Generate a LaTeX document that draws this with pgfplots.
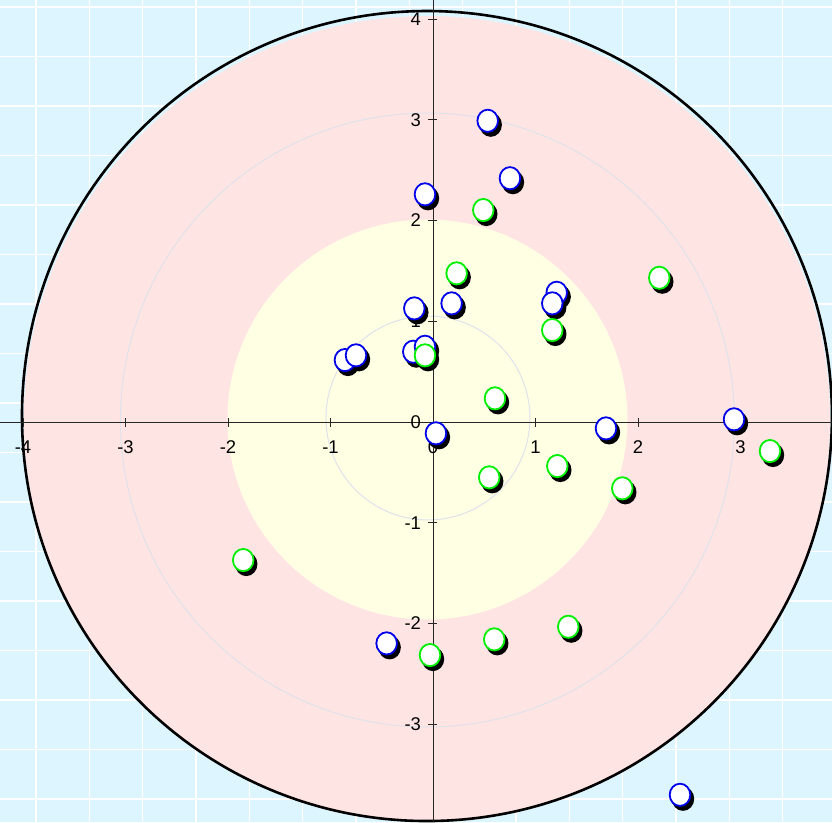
\documentclass[border=0pt]{standalone}
\usepackage{fontspec}
\setmainfont{Liberation Sans}
\usepackage{pgfplots}
\usepackage{pgfplotstable}
\pgfplotsset{compat=1.18}

\definecolor{bgcyan}{RGB}{220,245,255}
\definecolor{ringpink}{RGB}{255,228,228}
\definecolor{ringyellow}{RGB}{255,255,228}
\definecolor{ringgray}{RGB}{222,226,234}
\definecolor{ptblue}{RGB}{0,0,235}
\definecolor{ptgreen}{RGB}{0,240,0}

% blue series
\pgfplotstableread{
x y
0.534 2.990
0.751 2.420
-0.078 2.260
1.207 1.283
1.164 1.178
0.182 1.178
-0.182 1.128
-0.859 0.615
-0.751 0.662
-0.192 0.698
-0.078 0.747
0.029 -0.112
1.688 -0.063
2.937 0.027
-0.452 -2.197
2.410 -3.700
}\bluepts

% green series
\pgfplotstableread{
x y
0.491 2.104
0.231 1.476
2.208 1.432
1.164 0.913
-0.078 0.662
0.605 0.235
0.549 -0.549
1.213 -0.437
1.847 -0.658
3.288 -0.288
-1.851 -1.370
-0.029 -2.313
0.598 -2.157
1.320 -2.032
}\greenpts

\pgfplotsset{
  shadowmark/.style={only marks, mark=*, mark size=10.3bp,
    mark options={draw=black, fill=black, line width=1.8bp,
      xshift=3bp, yshift=-4bp, yscale=1.08}},
  dotmark/.style={only marks, mark=*, mark size=10.3bp,
    mark options={draw=#1, fill=white, line width=1.8bp, yscale=1.08}},
}
\newcommand{\tickfont}{\fontsize{18.5}{21}\selectfont}

\begin{document}
\begin{tikzpicture}
\begin{axis}[
  set layers,
  width=832bp, height=822bp, scale only axis,
  xmin=-4.224, xmax=3.893, ymin=-3.970, ymax=4.189,
  axis lines=center,
  every inner x axis line/.append style={-},
  every inner y axis line/.append style={-},
  axis line style={black!85, line width=0.9bp},
  xtick={-4,...,4}, ytick={-4,...,4},
  hide obscured x ticks=false, hide obscured y ticks=false,
  tick align=center, major tick length=9bp,
  tick style={black!85, line width=0.9bp},
  /pgf/number format/assume math mode=true,
  xticklabel style={font=\tickfont, yshift=-11bp},
  yticklabel style={font=\tickfont, xshift=-4bp},
]
\begin{pgfonlayer}{axis background}
  \fill[bgcyan] (rel axis cs:0,0) rectangle (rel axis cs:1,1);
  \pgfplotsinvokeforeach{0.04327,0.10737,0.17148,0.23558,0.29968,0.36378,0.42788,0.49199,0.55609,0.62019,0.68429,0.74840,0.81250,0.87660,0.94070}{
    \draw[white, line width=1.5bp] (rel axis cs:#1,0) -- (rel axis cs:#1,1);
  }
  \pgfplotsinvokeforeach{0.99148,0.93127,0.87105,0.81083,0.75061,0.69039,0.63017,0.56995,0.50973,0.44951,0.38929,0.32908,0.26886,0.20864,0.14842,0.08820,0.02798}{
    \draw[white, line width=1.5bp] (rel axis cs:0,#1) -- (rel axis cs:1,#1);
  }
  \fill[ringpink] (axis cs:-0.0585,0.0298) ellipse [x radius=3.932, y radius=4.0];
  \draw[ringgray, line width=1bp] (axis cs:-0.054,0.02) ellipse [x radius=2.995, y radius=3.047];
  \fill[ringyellow] (axis cs:-0.054,0.025) ellipse [x radius=1.951, y radius=1.985];
  \draw[ringgray, line width=1bp] (axis cs:-0.049,0.04) ellipse [x radius=0.995, y radius=1.012];
  \draw[black, line width=2.6bp] (axis cs:-0.0585,0.0596) ellipse [x radius=3.951, y radius=4.020];
\end{pgfonlayer}

\addplot[shadowmark] table {\bluepts};
\addplot[dotmark=ptblue] table {\bluepts};
\addplot[shadowmark] table {\greenpts};
\addplot[dotmark=ptgreen] table {\greenpts};
\end{axis}
\pgfresetboundingbox
\path (current axis.south west) rectangle (current axis.north east);
\end{tikzpicture}
\end{document}
